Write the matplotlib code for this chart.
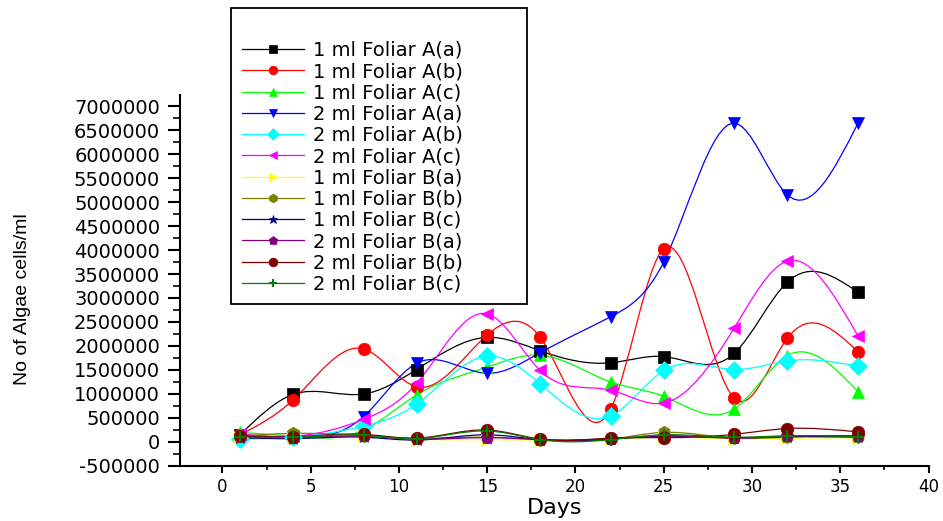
import numpy as np
import matplotlib
matplotlib.use('Agg')
import matplotlib.pyplot as plt
from matplotlib.path import Path
from matplotlib.patches import PathPatch
from matplotlib.lines import Line2D
from matplotlib.ticker import MultipleLocator, FormatStrFormatter
from matplotlib import font_manager

# data
days = [1, 4, 8, 11, 15, 18, 22, 25, 29, 32, 36]

ml1_foliar_a_a = [150000, 990000, 1000000, 1510000, 2180000, 1900000, 1650000, 1780000, 1850000, 3330000, 3120000]
ml1_foliar_a_b = [150000, 875000, 1940000, 1150000, 2230000, 2180000, 690000, 4030000, 910000, 2160000, 1880000]
ml1_foliar_a_c = [200000, 120000, 250000, 980000, 1560000, 1810000, 1250000, 950000, 690000, 1800000, 1050000]
ml2_foliar_a_a = [100000, 100000, 530000, 1640000, 1430000, 1860000, 2610000, 3750000, 6640000, 5150000, 6640000]
ml2_foliar_a_b = [60000, 100000, 330000, 790000, 1790000, 1210000, 540000, 1490000, 1510000, 1690000, 1580000]
ml2_foliar_a_c = [170000, 120000, 470000, 1220000, 2670000, 1490000, 1080000, 810000, 2380000, 3770000, 2210000]
ml1_foliar_b_a = [100000, 80000, 120000, 60000, 50000, 40000, 60000, 100000, 70000, 80000, 90000]
ml1_foliar_b_b = [120000, 180000, 130000, 80000, 100000, 50000, 60000, 200000, 80000, 100000, 110000]
ml1_foliar_b_c = [90000, 70000, 100000, 40000, 150000, 50000, 60000, 120000, 90000, 110000, 100000]
ml2_foliar_b_a = [110000, 90000, 120000, 60000, 90000, 50000, 70000, 130000, 80000, 120000, 130000]
ml2_foliar_b_b = [130000, 110000, 160000, 80000, 250000, 60000, 80000, 90000, 160000, 280000, 210000]
ml2_foliar_b_c = [100000, 100000, 140000, 70000, 230000, 50000, 50000, 150000, 100000, 130000, 110000]

series = [ml1_foliar_a_a, ml1_foliar_a_b, ml1_foliar_a_c, ml2_foliar_a_a, ml2_foliar_a_b, ml2_foliar_a_c,
          ml1_foliar_b_a, ml1_foliar_b_b, ml1_foliar_b_c, ml2_foliar_b_a, ml2_foliar_b_b, ml2_foliar_b_c]
labels = ['1 ml Foliar A(a)', '1 ml Foliar A(b)', '1 ml Foliar A(c)',
          '2 ml Foliar A(a)', '2 ml Foliar A(b)', '2 ml Foliar A(c)',
          '1 ml Foliar B(a)', '1 ml Foliar B(b)', '1 ml Foliar B(c)',
          '2 ml Foliar B(a)', '2 ml Foliar B(b)', '2 ml Foliar B(c)']
colors = ['#000000', '#ff0000', '#00ff00', '#0000ff', '#00ffff', '#ff00ff',
          '#ffff00', '#808000', '#000080', '#800080', '#800000', '#008000']
markers = ['s', 'o', '^', 'v', 'D', '<', '>', 'h', '*', 'p', 'o', '+']


def spline_path(x, y):
    # natural cubic spline through the points, drawn as bezier segments
    x = np.asarray(x, float)
    y = np.asarray(y, float)
    n = len(x)
    h = np.diff(x)
    A = np.zeros((n, n))
    r = np.zeros(n)
    A[0, 0] = A[-1, -1] = 1
    for i in range(1, n - 1):
        A[i, i - 1] = h[i - 1]
        A[i, i] = 2 * (h[i - 1] + h[i])
        A[i, i + 1] = h[i]
        r[i] = 6 * ((y[i + 1] - y[i]) / h[i] - (y[i] - y[i - 1]) / h[i - 1])
    M = np.linalg.solve(A, r)
    verts = [(x[0], y[0])]
    codes = [Path.MOVETO]
    for i in range(n - 1):
        s = (y[i + 1] - y[i]) / h[i]
        d0 = s - h[i] * (2 * M[i] + M[i + 1]) / 6
        d1 = s + h[i] * (M[i] + 2 * M[i + 1]) / 6
        verts += [(x[i] + h[i] / 3, y[i] + h[i] / 3 * d0),
                  (x[i + 1] - h[i] / 3, y[i + 1] - h[i] / 3 * d1),
                  (x[i + 1], y[i + 1])]
        codes += [Path.CURVE4] * 3
    return Path(verts, codes)


plt.rcParams['font.family'] = ['DejaVu Sans']

fig = plt.figure(figsize=(9.43, 5.21), dpi=100)
ax = fig.add_axes([0.1909, 0.1056, 0.7938, 0.7121])

handles = []
for k, (vals, lab, c, m) in enumerate(zip(series, labels, colors, markers)):
    ax.add_patch(PathPatch(spline_path(days, vals), facecolor='none', edgecolor=c, lw=0.9, zorder=2 + k * 0.01))
    mew = 1.5 if m == '+' else 0.5
    ax.plot(days, vals, linestyle='none', marker=m, markersize=9, color=c, markeredgecolor=c,
            markeredgewidth=mew, zorder=3 + k * 0.01)
    handles.append(Line2D([], [], color=c, marker=m, markersize=9, lw=0.9, markeredgewidth=mew))

ax.set_xlim(-2.4, 40)
ax.set_ylim(-500000, 7230000)
ax.xaxis.set_major_locator(MultipleLocator(5))
ax.xaxis.set_minor_locator(MultipleLocator(2.5))
ax.yaxis.set_major_locator(MultipleLocator(500000))
ax.yaxis.set_minor_locator(MultipleLocator(250000))
ax.yaxis.set_major_formatter(FormatStrFormatter('%d'))

for side in ['top', 'right']:
    ax.spines[side].set_visible(False)
for side in ['left', 'bottom']:
    ax.spines[side].set_linewidth(1.5)

ax.tick_params(axis='x', which='major', direction='out', length=5, width=1.5, pad=4, labelsize=12)
ax.tick_params(axis='x', which='minor', direction='out', length=3, width=1.2)
ax.tick_params(axis='y', which='major', direction='out', length=8.4, width=1.5, pad=6, labelsize=14)
ax.tick_params(axis='y', which='minor', direction='out', length=4.8, width=1.2)

ax.set_xlabel('Days', fontsize=16)
ax.xaxis.set_label_coords(0.5, -0.085)

# condensed font for the y title if we have one
try:
    font_manager.findfont('Liberation Sans Narrow', fallback_to_default=False)
    ylab_font, ylab_size = 'Liberation Sans Narrow', 17
except ValueError:
    ylab_font, ylab_size = 'Liberation Sans', 14
fig.text(0.024, 0.426, 'No of Algae cells/ml', rotation=90, ha='center', va='center',
         family=ylab_font, fontsize=ylab_size)

leg = fig.legend(handles, labels, loc='upper left', bbox_to_anchor=(0.245, 0.428, 0.314, 0.5566),
                 bbox_transform=fig.transFigure, mode='expand', borderaxespad=0,
                 title=' ', title_fontsize=15.5, fontsize=14, labelspacing=0.115,
                 handlelength=3.2, handletextpad=0.45, borderpad=0.55, markerscale=0.7,
                 fancybox=False, framealpha=1, edgecolor='black')
leg.get_frame().set_linewidth(1.3)

fig.savefig('out.png', dpi=100)
